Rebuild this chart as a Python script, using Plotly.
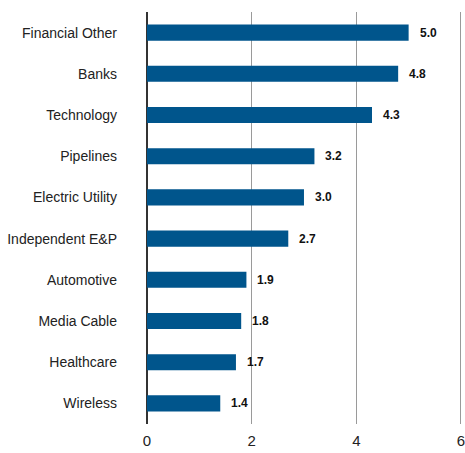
import plotly.graph_objects as go

categories = ["Financial Other", "Banks", "Technology", "Pipelines", "Electric Utility",
              "Independent E&P", "Automotive", "Media Cable", "Healthcare", "Wireless"]
values = [5.0, 4.8, 4.3, 3.2, 3.0, 2.7, 1.9, 1.8, 1.7, 1.4]
x_ticks = [0, 2, 4, 6]

FONT = "Liberation Sans, Arial, sans-serif"
BAR = "#00558C"

fig = go.Figure(go.Bar(
    x=values, y=categories, orientation="h",
    marker=dict(color=BAR, line=dict(width=0)),
    width=0.39,
    hoverinfo="skip",
))

for c, v in zip(categories, values):
    fig.add_annotation(x=v, y=c, text=f"<b>{v:.1f}</b>", showarrow=False,
                       xanchor="left", xshift=9, yanchor="middle",
                       font=dict(family=FONT, size=12, color="#111111"))

fig.update_layout(
    width=465, height=453,
    margin=dict(l=147, r=3, t=12, b=29, autoexpand=False),
    paper_bgcolor="white", plot_bgcolor="white",
    showlegend=False,
    font=dict(family=FONT, color="#222222"),
    xaxis=dict(range=[0, 6.02], tickvals=x_ticks, ticktext=[str(t) for t in x_ticks],
               showgrid=True, gridcolor="#9a9a9a", gridwidth=1,
               zeroline=True, zerolinecolor="#333333", zerolinewidth=1.5,
               showline=False, ticks="", tickfont=dict(size=15, family=FONT, color="#222222"),
               ticklabelstandoff=6, ticklabeloverflow="allow", automargin=False,
               fixedrange=True),
    yaxis=dict(categoryorder="array", categoryarray=categories[::-1],
               range=[-0.5, 9.5], showgrid=False, zeroline=False, showline=False,
               ticks="", ticklabelstandoff=29, automargin=False,
               tickfont=dict(size=14, family=FONT, color="#222222"), fixedrange=True),
)

fig.write_html("out.html")
